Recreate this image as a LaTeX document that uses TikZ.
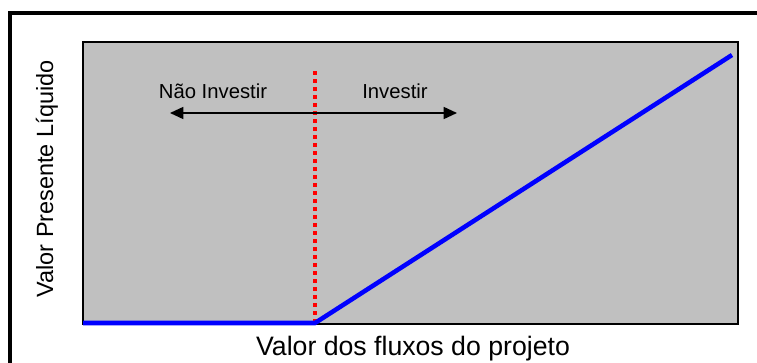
\documentclass[tikz,border=0pt]{standalone}
\usepackage{fontspec}
\setmainfont{Liberation Sans}
\usepackage{tikz}
\usetikzlibrary{positioning,arrows,arrows.meta}

\begin{document}
\begin{tikzpicture}[x=0.75pt,y=-0.75pt]
	\definecolor{plotgray}{RGB}{192,192,192}
	\tikzset{axislabel/.style={font=\fontsize{20}{24}\selectfont,anchor=base},
		zonelabel/.style={font=\fontsize{15.2}{18}\selectfont,anchor=base},
		payoff/.style={blue,line width=3.4pt},
		strike/.style={red,line width=3pt,dash pattern=on 3pt off 3pt}}
	\useasboundingbox (0,0) rectangle (757,363);
	\clip (0,0) rectangle (757,363);

	%% Frame and plot area
	\draw[line width=3pt] (10,13) rectangle (790,400);
	\filldraw[fill=plotgray,line width=1.8pt] (83,42) rectangle (738,324);

	\coordinate (o) at (83,323);
	\coordinate (k) at (315,323);
	\coordinate (ktop) at (315,70);
	\coordinate (end) at (732,55);
	\coordinate (left) at (170,113);
	\coordinate (right) at (457,113);

	\draw[strike] (k) -- (ktop);
	\draw[payoff] (o) -- (k) -- (end);
	\draw[{Triangle[length=10pt,width=9pt]}-{Triangle[length=10pt,width=9pt]},line width=1.2pt] (left) -- (right);

	\node[zonelabel] (nao) at (213,99) {Não Investir};
	\node[zonelabel] (inv) at (395,99) {Investir};
	\node[axislabel] (xlab) at (413,356) {Valor dos fluxos do projeto};
	\node[axislabel,font=\fontsize{17.6}{21}\selectfont,rotate=90] (ylab) at (53,179) {Valor Presente Líquido};
\end{tikzpicture}
\end{document}
